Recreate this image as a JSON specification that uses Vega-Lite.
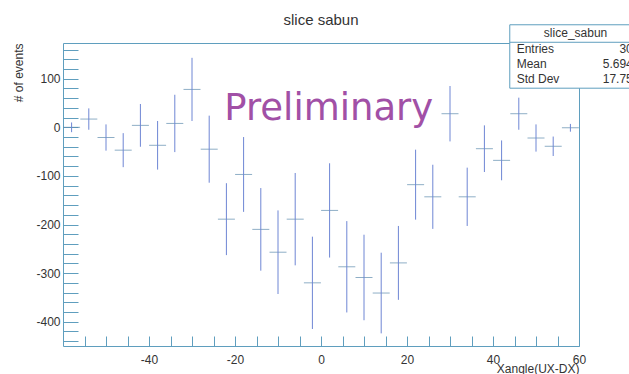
{
  "$schema": "https://vega.github.io/schema/vega-lite/v6.json",
  "width": 516,
  "height": 303,
  "autosize": {"type": "none"},
  "padding": {"left": 63, "top": 43, "right": 50, "bottom": 28},
  "background": "white",
  "config": {
    "view": {"stroke": "#5f9ebe", "strokeWidth": 1},
    "font": "Liberation Sans"
  },
  "title": {
    "text": "slice sabun",
    "fontSize": 15,
    "fontWeight": "normal",
    "font": "Liberation Sans",
    "color": "#333333",
    "anchor": "middle",
    "baseline": "alphabetic",
    "frame": "group",
    "offset": -16
  },
  "datasets": {
    "hist": [
      {"x": -58, "y": 0, "err": 10},
      {"x": -54, "y": 17, "err": 22},
      {"x": -50, "y": -21, "err": 27},
      {"x": -46, "y": -47, "err": 35},
      {"x": -42, "y": 4, "err": 44},
      {"x": -38, "y": -37, "err": 50},
      {"x": -34, "y": 8, "err": 59},
      {"x": -30, "y": 78, "err": 65},
      {"x": -26, "y": -45, "err": 69},
      {"x": -22, "y": -189, "err": 74},
      {"x": -18, "y": -97, "err": 77},
      {"x": -14, "y": -210, "err": 85},
      {"x": -10, "y": -257, "err": 86},
      {"x": -6, "y": -189, "err": 95},
      {"x": -2, "y": -320, "err": 95},
      {"x": 2, "y": -171, "err": 97},
      {"x": 6, "y": -287, "err": 94},
      {"x": 10, "y": -309, "err": 88},
      {"x": 14, "y": -341, "err": 83},
      {"x": 18, "y": -279, "err": 76},
      {"x": 22, "y": -118, "err": 72},
      {"x": 26, "y": -143, "err": 66},
      {"x": 30, "y": 28, "err": 57},
      {"x": 34, "y": -143, "err": 60},
      {"x": 38, "y": -44, "err": 48},
      {"x": 42, "y": -68, "err": 41},
      {"x": 46, "y": 28, "err": 33},
      {"x": 50, "y": -22, "err": 28},
      {"x": 54, "y": -39, "err": 20},
      {"x": 58, "y": -1, "err": 8}
    ],
    "prelim": [{"x": 1.8, "y": 15, "text": "Preliminary"}],
    "statsBox": [{"x": 43.9, "x2": 80, "y": 211, "y2": 80.5}],
    "statsSep": [{"x": 43.9, "x2": 80, "y": 175}],
    "statsHead": [{"x": 59.2, "y": 194, "text": "slice_sabun"}],
    "statsNames": [
      {"x": 45.5, "y": 161, "text": "Entries"},
      {"x": 45.5, "y": 130, "text": "Mean"},
      {"x": 45.5, "y": 99, "text": "Std Dev"}
    ],
    "statsValues": [
      {"x": 72.5, "y": 161, "text": "30"},
      {"x": 72.5, "y": 130, "text": "5.694"},
      {"x": 72.5, "y": 99, "text": "17.75"}
    ]
  },
  "encoding": {
    "x": {
      "field": "x", "type": "quantitative",
      "scale": {"domain": [-60, 60], "nice": false, "zero": false},
      "axis": {
        "title": "Xangle(UX-DX)",
        "titleAnchor": "end",
        "titleFontSize": 12,
        "titleFontWeight": "normal",
        "titleColor": "#333333",
        "titlePadding": -2,
        "values": [-55, -50, -45, -40, -35, -30, -25, -20, -15, -10, -5, 0, 5, 10, 15, 20, 25, 30, 35, 40, 45, 50, 55, 60],
        "labelExpr": "datum.value % 20 === 0 ? '' + datum.value : ''",
        "tickSize": -10,
        "tickColor": "#5f9ebe",
        "domain": false,
        "grid": false,
        "labelPadding": 18,
        "labelFontSize": 12,
        "labelColor": "#333333",
        "labelFlush": false,
        "labelOverlap": false,
        "labelBound": false,
        "encode": {"ticks": {"update": {"y2": {"signal": "datum.value % 20 === 0 ? -10 : -5"}}}}
      }
    },
    "y": {
      "field": "y", "type": "quantitative",
      "scale": {"domain": [-450, 173.5], "nice": false, "zero": false},
      "axis": {
        "title": "# of events",
        "titleAnchor": "end",
        "titleFontSize": 12,
        "titleFontWeight": "normal",
        "titleColor": "#333333",
        "titlePadding": 10,
        "values": [-440, -420, -400, -380, -360, -340, -320, -300, -280, -260, -240, -220, -200, -180, -160, -140, -120, -100, -80, -60, -40, -20, 0, 20, 40, 60, 80, 100, 120, 140, 160],
        "labelExpr": "datum.value % 100 === 0 ? '' + datum.value : ''",
        "tickSize": -15,
        "tickColor": "#5f9ebe",
        "domain": false,
        "grid": false,
        "labelPadding": 18,
        "labelFontSize": 12,
        "labelColor": "#333333",
        "labelOverlap": false,
        "labelBound": false,
        "labelFlush": false,
        "encode": {"ticks": {"update": {"x2": {"signal": "datum.value % 100 === 0 ? 15 : 7"}}}}
      }
    }
  },
  "layer": [
    {
      "data": {"name": "hist"},
      "mark": {"type": "tick", "orient": "horizontal", "size": 17, "thickness": 1, "color": "#5e8cae"}
    },
    {
      "data": {"name": "hist"},
      "mark": {"type": "errorbar", "ticks": false, "color": "#6e86d4", "thickness": 1},
      "encoding": {"yError": {"field": "err"}}
    },
    {
      "data": {"name": "prelim"},
      "mark": {"type": "text", "font": "DejaVu Sans", "fontSize": 37, "color": "#a150a6", "align": "center", "baseline": "alphabetic"},
      "encoding": {"text": {"field": "text"}}
    },
    {
      "data": {"name": "statsBox"},
      "mark": {"type": "rect", "fill": "white", "stroke": "#5f9ebe", "strokeWidth": 1, "clip": false},
      "encoding": {"x2": {"field": "x2"}, "y2": {"field": "y2"}}
    },
    {
      "data": {"name": "statsSep"},
      "mark": {"type": "rule", "stroke": "#5f9ebe", "strokeWidth": 1, "clip": false},
      "encoding": {"x2": {"field": "x2"}}
    },
    {
      "data": {"name": "statsHead"},
      "mark": {"type": "text", "fontSize": 12, "color": "#333333", "align": "center", "baseline": "middle", "clip": false},
      "encoding": {"text": {"field": "text"}}
    },
    {
      "data": {"name": "statsNames"},
      "mark": {"type": "text", "fontSize": 12, "color": "#333333", "align": "left", "baseline": "middle", "clip": false},
      "encoding": {"text": {"field": "text"}}
    },
    {
      "data": {"name": "statsValues"},
      "mark": {"type": "text", "fontSize": 12, "color": "#333333", "align": "right", "baseline": "middle", "clip": false},
      "encoding": {"text": {"field": "text"}}
    }
  ]
}
